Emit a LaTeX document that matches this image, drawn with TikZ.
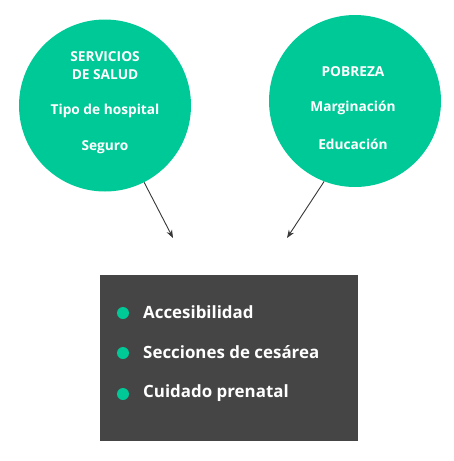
\documentclass[tikz,border=0pt]{standalone}
\usepackage{fontspec}
\setmainfont{Open Sans}
\usetikzlibrary{arrows.meta}
\definecolor{mint}{RGB}{0,201,152}
\definecolor{boxgray}{RGB}{69,69,69}
\definecolor{arrowgray}{RGB}{55,55,55}
\tikzset{
  bubble/.style={circle, fill=mint, minimum size=172pt, inner sep=0pt},
  ctext/.style={text=white, font=\bfseries\fontsize{13.7}{18}\selectfont, align=center, inner sep=0pt},
  btext/.style={text=white, font=\bfseries\fontsize{16.9}{20}\selectfont, anchor=west, inner sep=0pt},
  dot/.style={circle, fill=mint, minimum size=12pt, inner sep=0pt},
  link/.style={draw=arrowgray, line width=0.9pt, -{Stealth[length=8pt,width=6pt]}}
}
\begin{document}
\begin{tikzpicture}[x=1pt,y=-1pt]
\useasboundingbox (0,0) rectangle (454,461);
\node[bubble] (c1) at (105,105.5) {};
\node[bubble] (c2) at (355,101) {};
\node[ctext] (t1) at (105,66) {SERVICIOS\\DE SALUD};
\node[ctext] (t2) at (105,111) {Tipo de hospital};
\node[ctext] (t3) at (105,147) {Seguro};
\node[ctext] (t4) at (353,72) {POBREZA};
\node[ctext] (t5) at (353,108) {Marginación};
\node[ctext] (t6) at (353,144) {Educación};
\node[fill=boxgray, minimum width=258pt, minimum height=166pt, inner sep=0pt] (box) at (229,358) {};
\coordinate (a1) at (173,238);
\coordinate (a2) at (287,238);
\draw[link] (c1.-63) -- (a1);
\draw[link] (c2.-111) -- (a2);
\node[dot] (d1) at (123,313) {};
\node[dot] (d2) at (123,353) {};
\node[dot] (d3) at (123,394) {};
\node[btext] (b1) at (143,312) {Accesibilidad};
\node[btext] (b2) at (143,352) {Secciones de cesárea};
\node[btext] (b3) at (143,393) {Cuidado prenatal};
\end{tikzpicture}
\end{document}
